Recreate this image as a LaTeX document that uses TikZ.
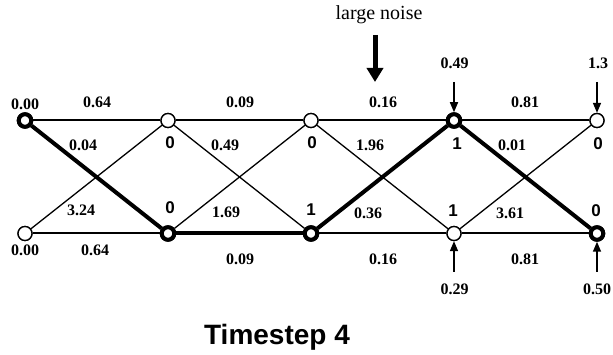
\documentclass[tikz,border=0pt]{standalone}
\usepackage{fontspec}
\setmainfont{Liberation Serif}
\newfontfamily\sansf{Liberation Sans}
\usetikzlibrary{arrows.meta}
\tikzset{
  st/.style={circle, draw, fill=white, minimum size=14pt, inner sep=0pt, line width=1.3pt},
  stbold/.style={circle, draw, fill=white, minimum size=12.5pt, inner sep=0pt, line width=4pt},
  hline/.style={line width=2pt},
  dline/.style={line width=1.3pt},
  best/.style={line width=4pt},
  cost/.style={font=\fontsize{16}{16}\selectfont\bfseries, inner sep=0pt},
  bit/.style={font=\fontsize{17}{17}\selectfont\sansf\bfseries, inner sep=0pt},
  smallarr/.style={line width=1.6pt, -{Triangle[length=10pt,width=8pt]}},
  bigarr/.style={line width=5pt, -{Triangle[length=14pt,width=16pt]}}
}
\begin{document}
\begin{tikzpicture}[x=1pt,y=-1pt]
\useasboundingbox (0,0) rectangle (613,355);
% nodes
\node[stbold] (t0) at (25,120.5) {};
\node[st] (t1) at (168,120.5) {};
\node[st] (t2) at (311,120.5) {};
\node[stbold] (t3) at (454,120.5) {};
\node[st] (t4) at (597,120.5) {};
\node[st] (b0) at (25,233.5) {};
\node[stbold] (b1) at (168,233.5) {};
\node[stbold] (b2) at (311,233.5) {};
\node[st] (b3) at (454,233.5) {};
\node[stbold] (b4) at (597,233.5) {};
% edges
\draw[hline] (t0) -- (t1);
\draw[hline] (t1) -- (t2);
\draw[hline] (t2) -- (t3);
\draw[hline] (t3) -- (t4);
\draw[hline] (b0) -- (b1);
\draw[best] (b1) -- (b2);
\draw[hline] (b2) -- (b3);
\draw[hline] (b3) -- (b4);
\draw[best] (t0) -- (b1);
\draw[dline] (b0) -- (t1);
\draw[dline] (t1) -- (b2);
\draw[dline] (b1) -- (t2);
\draw[dline] (t2) -- (b3);
\draw[best] (b2) -- (t3);
\draw[best] (t3) -- (b4);
\draw[dline] (b3) -- (t4);
% redraw nodes on top
\node[stbold] at (t0) {};
\node[st] at (t1) {};
\node[st] at (t2) {};
\node[stbold] at (t3) {};
\node[st] at (t4) {};
\node[st] at (b0) {};
\node[stbold] at (b1) {};
\node[stbold] at (b2) {};
\node[st] at (b3) {};
\node[stbold] at (b4) {};
% node costs
\node[cost] (ct0) at (25,104) {0.00};
\node[cost] (cb0) at (25,250) {0.00};
% top edge labels
\node[cost] (e1) at (97,102) {0.64};
\node[cost] (e2) at (240,102) {0.09};
\node[cost] (e3) at (383,102) {0.16};
\node[cost] (e4) at (525,102) {0.81};
% diagonal labels upper
\node[cost] (d1) at (83,145.5) {0.04};
\node[cost] (d2) at (225,145.5) {0.49};
\node[cost] (d3) at (370,145.5) {1.96};
\node[cost] (d4) at (512,145.5) {0.01};
% diagonal labels lower
\node[cost] (g1) at (81,210.5) {3.24};
\node[cost] (g2) at (226,212.5) {1.69};
\node[cost] (g3) at (368,213) {0.36};
\node[cost] (g4) at (510,213) {3.61};
% bottom edge labels
\node[cost] (f1) at (95,250) {0.64};
\node[cost] (f2) at (240,259) {0.09};
\node[cost] (f3) at (383,259) {0.16};
\node[cost] (f4) at (525,259) {0.81};
% bits
\node[bit] (bt1) at (170,143) {0};
\node[bit] (bt2) at (312,143) {0};
\node[bit] (bt3) at (457,144) {1};
\node[bit] (bt4) at (598,144) {0};
\node[bit] (bb1) at (170,207.5) {0};
\node[bit] (bb2) at (311,210) {1};
\node[bit] (bb3) at (453,211) {1};
\node[bit] (bb4) at (596,211) {0};
% arrows with costs
\node[cost] (n3) at (454.5,63.5) {0.49};
\node[cost] (n4) at (598,63.5) {1.3};
\coordinate (a3) at (454,82);
\coordinate (a4) at (597,82);
\draw[smallarr] (a3) -- (t3.north);
\draw[smallarr] (a4) -- (t4.north);
\node[cost] (m3) at (454.5,289) {0.29};
\node[cost] (m4) at (597,289) {0.50};
\coordinate (c3) at (454,272);
\coordinate (c4) at (597,272);
\draw[smallarr] (c3) -- (b3.south);
\draw[smallarr] (c4) -- (b4.south);
% large noise
\node[font=\fontsize{20}{20}\selectfont, inner sep=0pt] (ln) at (379,15) {large noise};
\coordinate (lnA) at (375,35);
\coordinate (lnB) at (375,82);
\draw[bigarr] (lnA) -- (lnB);
% title
\node[font=\fontsize{28}{28}\selectfont\sansf\bfseries, inner sep=0pt] (title) at (277,337) {Timestep 4};
\end{tikzpicture}
\end{document}
